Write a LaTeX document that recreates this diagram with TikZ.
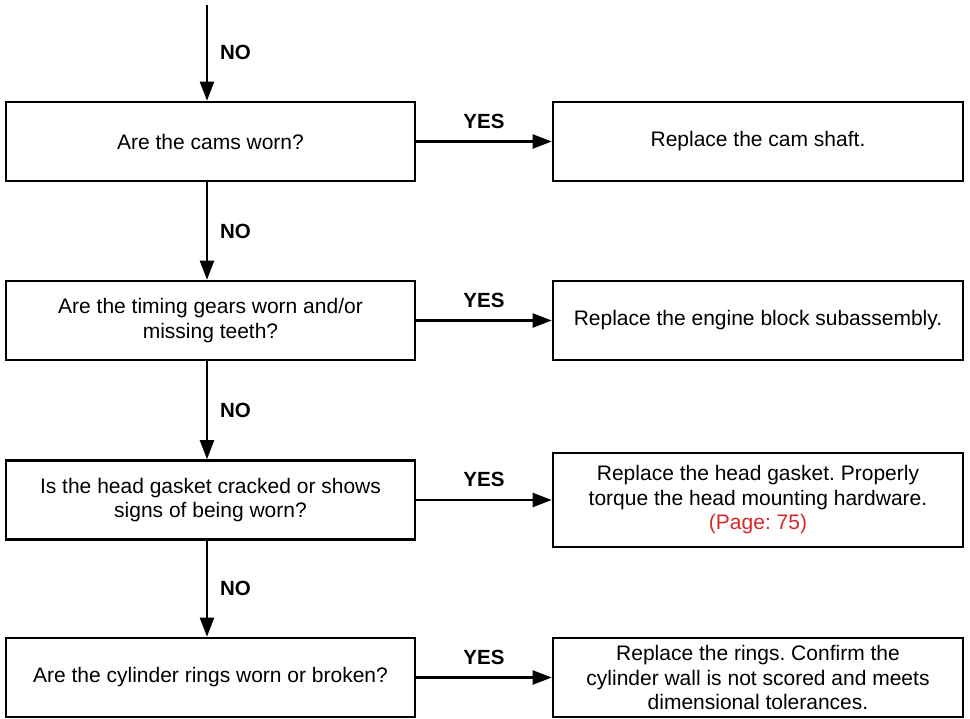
\documentclass[tikz,border=0pt]{standalone}
\usepackage{fontspec}
\setmainfont{Liberation Sans}
\usetikzlibrary{arrows.meta}
\frenchspacing
\definecolor{pagered}{RGB}{214,40,40}
\tikzset{
  box/.style={draw=black, line width=2.6pt, fill=white, inner sep=0pt,
    align=center, font=\fontsize{21}{24.5}\selectfont},
  qbox/.style={box, minimum width=409pt, minimum height=79pt},
  abox/.style={box, minimum width=410pt, minimum height=79pt},
  arr/.style={line width=2.2pt, -{Triangle[length=19pt,width=14pt]}},
  lbl/.style={font=\fontsize{20.5}{24}\selectfont\bfseries, inner sep=0pt}
}
\begin{document}
\begin{tikzpicture}[x=1pt,y=-1pt]
  \useasboundingbox (0,0) rectangle (970,719);

  % question column
  \node[qbox] (q1) at (210.5,141.5) {Are the cams worn?};
  \node[qbox] (q2) at (210.5,320.5) {Are the timing gears worn and/or\\missing teeth?};
  \node[qbox] (q3) at (210.5,500) {Is the head gasket cracked or shows\\signs of being worn?};
  \node[qbox] (q4) at (210.5,677.5) {Are the cylinder rings worn or broken?};

  % action column
  \node[abox] (a1) at (758,141.5) {Replace the cam shaft.};
  \node[abox] (a2) at (758,320.5) {Replace the engine block subassembly.};
  \node[abox, minimum height=94pt] (a3) at (758,500)
    {Replace the head gasket. Properly\\torque the head mounting hardware.\\\textcolor{pagered}{(Page: 75)}};
  \node[abox] (a4) at (758,677.5)
    {Replace the rings. Confirm the\\cylinder wall is not scored and meets\\dimensional tolerances.};

  % incoming flow
  \coordinate (start) at (207,5);

  % NO branches
  \draw[arr] (start) -- node[lbl, right=12pt] {NO} ([xshift=-3.5pt]q1.north);
  \draw[arr] ([xshift=-3.5pt]q1.south) -- node[lbl, right=12pt] {NO} ([xshift=-3.5pt]q2.north);
  \draw[arr] ([xshift=-3.5pt]q2.south) -- node[lbl, right=12pt] {NO} ([xshift=-3.5pt]q3.north);
  \draw[arr] ([xshift=-3.5pt]q3.south) -- node[lbl, right=12pt] {NO} ([xshift=-3.5pt]q4.north);

  % YES branches
  \draw[arr] (q1.east) -- node[lbl, above=12pt] {YES} (a1.west);
  \draw[arr] (q2.east) -- node[lbl, above=12pt] {YES} (a2.west);
  \draw[arr] (q3.east) -- node[lbl, above=12pt] {YES} (a3.west);
  \draw[arr] (q4.east) -- node[lbl, above=12pt] {YES} (a4.west);
\end{tikzpicture}
\end{document}
